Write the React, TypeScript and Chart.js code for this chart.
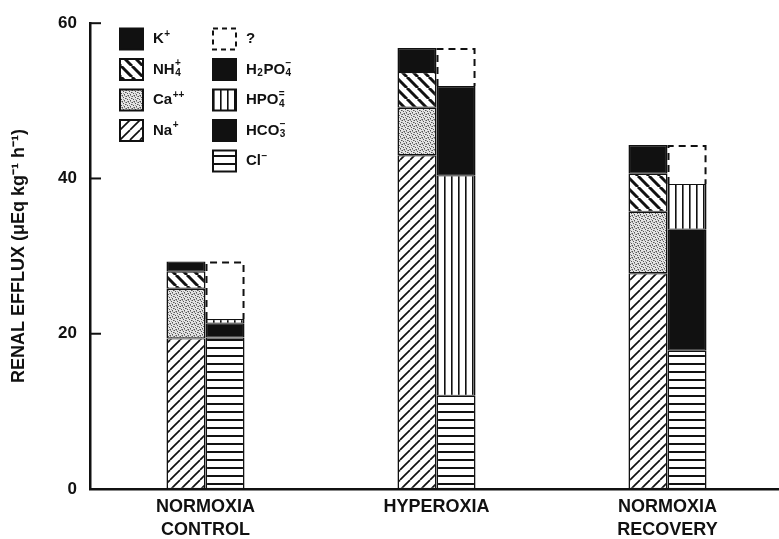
import React, { useEffect, useRef } from 'react';
import { Chart, registerables } from 'chart.js';

Chart.register(...registerables);

// ---- data ----
const categories = [['NORMOXIA', 'CONTROL'], ['HYPEROXIA'], ['NORMOXIA', 'RECOVERY']];
// cations (bottom → top)
const naValues = [19.4, 43.0, 27.8];
const caValues = [6.4, 6.1, 7.9];
const nh4Values = [2.2, 4.6, 4.9];
const kValues = [1.3, 3.1, 3.7];
// anions (bottom → top)
const clValues = [19.5, 12.0, 17.8];
const hco3Values = [1.8, null, 15.6];
const hpo4Values = [0.6, 28.4, 5.9];
const h2po4Values = [null, 11.5, null];
const unknownValues = [7.4, 4.9, 5.0];
const yTicks = [0, 20, 40, 60];
const yTitle = 'RENAL EFFLUX (μEq kg⁻¹ h⁻¹)';

const INK = '#111';
const FONT = '"Liberation Sans", Arial, sans-serif';

type Run = [string, string?, string?];
const legendLeft: { key: string; runs: Run[] }[] = [
  { key: 'K', runs: [['K'], ['+', 'sup']] },
  { key: 'NH4', runs: [['NH'], ['4', 'stack', '+']] },
  { key: 'Ca', runs: [['Ca'], ['++', 'sup']] },
  { key: 'Na', runs: [['Na'], ['+', 'sup']] },
];
const legendRight: { key: string; runs: Run[] }[] = [
  { key: '?', runs: [['?']] },
  { key: 'H2PO4', runs: [['H'], ['2', 'sub'], ['PO'], ['4', 'stack', '−']] },
  { key: 'HPO4', runs: [['HPO'], ['4', 'stack', '=']] },
  { key: 'HCO3', runs: [['HCO'], ['3', 'stack', '−']] },
  { key: 'Cl', runs: [['Cl'], ['−', 'sup']] },
];

function makePattern(kind: string): CanvasPattern | string {
  const c = document.createElement('canvas');
  const g = c.getContext('2d')!;
  if (kind === 'slash') {
    const s = 10;
    c.width = s; c.height = s;
    g.fillStyle = '#fff'; g.fillRect(0, 0, s, s);
    g.strokeStyle = INK; g.lineWidth = 1.7;
    for (const o of [-s, 0, s]) { g.beginPath(); g.moveTo(o, s); g.lineTo(o + s, 0); g.stroke(); }
  } else if (kind === 'backslash') {
    const s = 11;
    c.width = s; c.height = s;
    g.fillStyle = '#fff'; g.fillRect(0, 0, s, s);
    g.strokeStyle = INK; g.lineWidth = 3;
    for (const o of [-s, 0, s]) { g.beginPath(); g.moveTo(o, 0); g.lineTo(o + s, s); g.stroke(); }
  } else if (kind === 'hlines') {
    c.width = 4; c.height = 8;
    g.fillStyle = '#fff'; g.fillRect(0, 0, 4, 8);
    g.fillStyle = INK; g.fillRect(0, 3, 4, 2);
  } else if (kind === 'vlines') {
    c.width = 7; c.height = 4;
    g.fillStyle = '#fff'; g.fillRect(0, 0, 7, 4);
    g.fillStyle = INK; g.fillRect(3, 0, 1.6, 4);
  } else if (kind === 'dots') {
    c.width = 6; c.height = 6;
    g.fillStyle = '#e4e4e4'; g.fillRect(0, 0, 6, 6);
    g.fillStyle = '#555';
    for (const [x, y] of [[0, 0], [3, 1], [1, 3], [4, 4], [2, 5], [5, 2]]) g.fillRect(x, y, 1, 1);
    g.fillStyle = '#9a9a9a';
    for (const [x, y] of [[2, 0], [5, 0], [0, 2], [3, 3], [1, 5], [4, 5]]) g.fillRect(x, y, 1, 1);
  }
  return g.createPattern(c, 'repeat') || '#fff';
}

function drawRuns(ctx: CanvasRenderingContext2D, x: number, y: number, runs: Run[]) {
  let cx = x;
  ctx.textBaseline = 'middle';
  ctx.textAlign = 'left';
  for (const [t, mode, extra] of runs) {
    if (!mode) {
      ctx.font = `bold 15px ${FONT}`;
      ctx.fillText(t, cx, y);
      cx += ctx.measureText(t).width;
    } else if (mode === 'sup') {
      ctx.font = `bold 10px ${FONT}`;
      ctx.fillText(t, cx + 0.5, y - 5);
      cx += ctx.measureText(t).width + 1;
    } else if (mode === 'sub') {
      ctx.font = `bold 10px ${FONT}`;
      ctx.fillText(t, cx + 0.5, y + 4);
      cx += ctx.measureText(t).width + 1;
    } else if (mode === 'stack') {
      ctx.font = `bold 10px ${FONT}`;
      const w = ctx.measureText(t).width;
      ctx.fillText(t, cx + 0.5, y + 4);
      const ew = ctx.measureText(extra || '').width;
      ctx.fillText(extra || '', cx + 0.5 + (w - ew) / 2, y - 6);
      cx += Math.max(w, ew) + 1;
    }
  }
}

export default function App() {
  const ref = useRef<HTMLCanvasElement>(null);

  useEffect(() => {
    const canvas = ref.current!;
    const pats: Record<string, CanvasPattern | string> = {
      Na: makePattern('slash'),
      Ca: makePattern('dots'),
      NH4: makePattern('backslash'),
      K: INK,
      Cl: makePattern('hlines'),
      HCO3: INK,
      HPO4: makePattern('vlines'),
      H2PO4: INK,
      '?': '#fff',
    };

    const ds = (label: string, data: (number | null)[], stack: string) => ({
      label,
      data,
      stack,
      backgroundColor: pats[label],
      borderColor: INK,
      borderWidth: label === '?' ? 0 : { top: 1.2, bottom: 1.2, left: 1.6, right: 1.6 },
      borderSkipped: false,
      categoryPercentage: 0.338,
      barPercentage: 1,
    });

    const legendPlugin = {
      id: 'legendBoxes',
      afterDraw(chart: any) {
        const ctx: CanvasRenderingContext2D = chart.ctx;
        ctx.save();
        const rowY = (i: number) => 39 + i * 30.5;
        const drawBox = (x: number, cy: number, key: string) => {
          const w = 23, h = 21, y = cy - h / 2;
          ctx.fillStyle = pats[key] as any;
          ctx.fillRect(x, y, w, h);
          ctx.strokeStyle = INK;
          ctx.lineWidth = 2;
          if (key === '?') ctx.setLineDash([5, 4]);
          ctx.strokeRect(x, y, w, h);
          ctx.setLineDash([]);
        };
        legendLeft.forEach((it, i) => {
          drawBox(120, rowY(i), it.key);
          ctx.fillStyle = INK;
          drawRuns(ctx, 153, rowY(i), it.runs);
        });
        legendRight.forEach((it, i) => {
          drawBox(213, rowY(i), it.key);
          ctx.fillStyle = INK;
          drawRuns(ctx, 246, rowY(i), it.runs);
        });
        ctx.restore();
      },
    };

    const extrasPlugin = {
      id: 'extras',
      afterDatasetsDraw(chart: any) {
        const ctx: CanvasRenderingContext2D = chart.ctx;
        const idx = chart.data.datasets.findIndex((d: any) => d.label === '?');
        const meta = chart.getDatasetMeta(idx);
        ctx.save();
        ctx.strokeStyle = INK;
        ctx.lineWidth = 2;
        ctx.setLineDash([7, 5]);
        meta.data.forEach((el: any, i: number) => {
          if (unknownValues[i] == null) return;
          const { x, y, base, width } = el.getProps(['x', 'y', 'base', 'width'], true);
          const l = x - width / 2, r = x + width / 2;
          ctx.beginPath();
          ctx.moveTo(l + 1, base);
          ctx.lineTo(l + 1, y + 1);
          ctx.lineTo(r - 1, y + 1);
          ctx.lineTo(r - 1, base);
          ctx.stroke();
        });
        ctx.restore();
      },
      afterDraw(chart: any) {
        const ctx: CanvasRenderingContext2D = chart.ctx;
        const ys = chart.scales.y;
        const left = chart.chartArea.left;
        ctx.save();
        ctx.strokeStyle = INK;
        ctx.lineWidth = 2;
        yTicks.forEach((v) => {
          const py = ys.getPixelForValue(v);
          ctx.beginPath();
          ctx.moveTo(left, py);
          ctx.lineTo(left + 11, py);
          ctx.stroke();
        });
        ctx.restore();
      },
    };

    const chart = new Chart(canvas, {
      type: 'bar',
      data: {
        labels: categories as any,
        datasets: [
          ds('Na', naValues, 'cat'),
          ds('Ca', caValues, 'cat'),
          ds('NH4', nh4Values, 'cat'),
          ds('K', kValues, 'cat'),
          ds('Cl', clValues, 'an'),
          ds('HCO3', hco3Values, 'an'),
          ds('HPO4', hpo4Values, 'an'),
          ds('H2PO4', h2po4Values, 'an'),
          ds('?', unknownValues, 'an'),
        ] as any,
      },
      options: {
        responsive: false,
        animation: false,
        events: [],
        layout: { padding: { top: 19, left: 0, right: 0, bottom: 0 } },
        plugins: { legend: { display: false }, tooltip: { enabled: false } },
        scales: {
          x: {
            stacked: true,
            offset: true,
            grid: { display: false, drawTicks: false },
            border: { display: true, color: INK, width: 2.5 },
            ticks: {
              color: INK,
              font: { family: FONT, size: 18, weight: 'bold', lineHeight: 1.25 },
              padding: 7,
              maxRotation: 0,
              autoSkip: false,
            },
            afterFit(scale: any) { scale.height = 50; },
          },
          y: {
            stacked: true,
            min: 0,
            max: 60,
            grid: { display: false, drawTicks: false },
            border: { display: true, color: INK, width: 2.5 },
            ticks: {
              stepSize: 20,
              color: INK,
              font: { family: FONT, size: 17, weight: 'bold' },
              padding: 13,
            },
            title: {
              display: true,
              text: yTitle,
              color: INK,
              font: { family: FONT, size: 18, weight: 'bold' },
              padding: { top: 8, bottom: 0 },
            },
            afterFit(scale: any) { scale.width = 90; },
          },
        },
      } as any,
      plugins: [extrasPlugin, legendPlugin],
    });
    return () => chart.destroy();
  }, []);

  return (
    <div style={{ position: 'fixed', left: 0, top: 0, width: 783, height: 539, background: '#fff' }}>
      <canvas ref={ref} width={783} height={539} style={{ display: 'block', width: 783, height: 539 }} />
    </div>
  );
}
